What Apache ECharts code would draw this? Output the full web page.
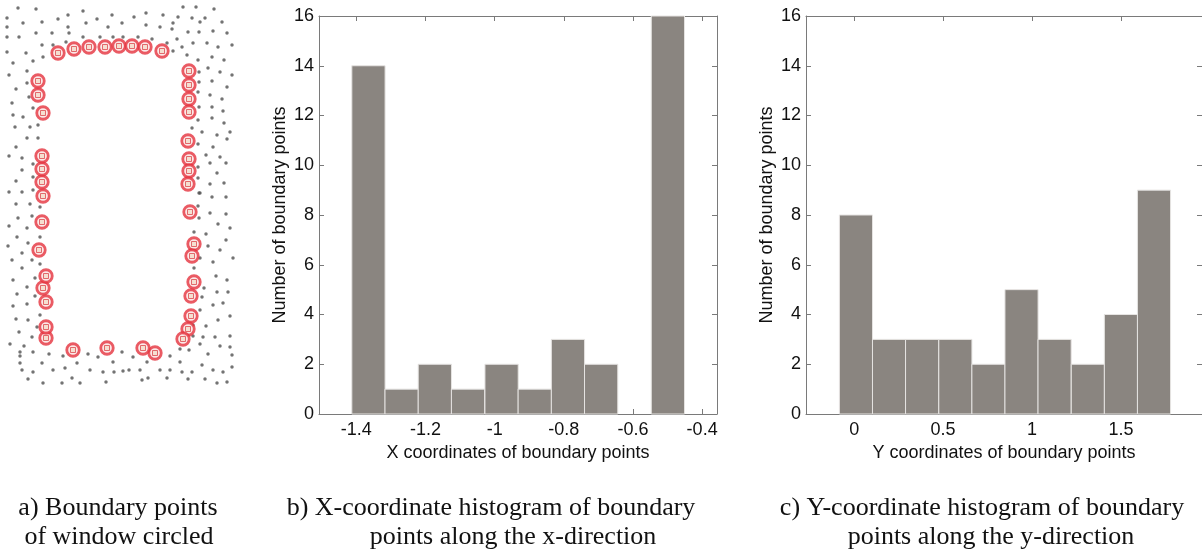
<!DOCTYPE html>
<html>
<head>
<meta charset="utf-8">
<script src="https://cdn.jsdelivr.net/npm/echarts@6.0.0/dist/echarts.min.js"></script>
<style>
  html, body { margin: 0; padding: 0; background: #fff; }
  #main { width: 1202px; height: 552px; }
</style>
</head>
<body>
<div id="main"></div>
<script>
// panel a: point cloud (picture units, y grows downward)
const grayDots = [
  [18,8],[36,9],[183,7],[196,7],[214,9],
  [83,11],[68,15],[112,15],[146,13],[163,15],[178,17],[192,18],[205,18],[7,18],
  [23,23],[42,22],[58,19],[86,23],[97,19],[122,23],[134,17],[146,25],[160,27],[173,23],[200,22],[222,22],[7,27],
  [68,27],[108,27],[36,33],[52,33],[69,33],[172,29],[188,32],[199,32],[213,31],[227,33],[19,37],[7,37],
  [83,37],[100,37],[113,37],[123,37],[138,37],[152,39],[177,39],
  [42,45],[53,45],[66,42],[167,43],[182,47],[193,43],[207,43],[218,47],[232,45],
  [26,53],[43,57],[33,61],[13,63],[173,51],[187,55],[198,60],[212,57],[224,60],[7,52],
  [27,71],[9,75],[199,72],[208,68],[220,72],[232,75],
  [27,83],[16,89],[29,97],[12,103],[199,82],[212,81],[227,87],[198,92],[210,95],[222,99],[199,107],
  [33,108],[13,115],[23,117],[15,127],[30,127],[38,125],[198,120],[212,107],[223,111],[212,118],[224,123],
  [192,128],[202,132],[217,135],[230,132],
  [27,138],[38,138],[16,147],[198,144],[213,147],[227,139],[206,155],[220,157],[9,156],[22,158],
  [33,164],[22,170],[33,177],[16,181],[9,192],[22,192],[33,190],[198,167],[210,163],[226,163],[217,173],
  [198,178],[210,184],[224,183],[199,193],[212,197],[226,197],
  [16,204],[30,204],[40,207],[18,218],[32,216],[9,226],[27,228],[40,237],[17,237],[28,243],[22,253],[12,260],
  [32,260],[40,264],[22,268],[13,280],[35,278],[27,287],[17,294],[35,296],[13,306],[27,304],[40,315],[16,319],
  [28,320],[37,327],[19,332],[32,337],[10,344],[24,346],[33,352],[20,352],[20,356],[8,246],
  [49,354],[63,356],[88,354],[98,357],[113,362],[122,352],[133,357],[147,362],[170,356],[180,349],[180,362],
  [20,363],[42,363],[77,363],[65,368],[53,370],[33,372],[22,370],[90,370],[103,372],[114,372],[123,371],
  [129,370],[140,370],[160,370],[170,370],[182,372],[192,372],[202,365],[213,370],[223,372],[232,367],
  [28,379],[43,383],[62,383],[72,378],[80,383],[106,382],[142,380],[148,378],[167,378],[188,379],[205,379],
  [217,383],[227,382],
  [200,193],[198,206],[210,213],[226,214],[199,218],[218,224],[230,228],[194,232],[206,234],[226,240],
  [208,246],[220,250],[200,258],[213,262],[233,258],[194,268],[216,276],[227,280],[204,288],[217,292],
  [228,292],[202,297],[213,305],[223,303],[200,310],[230,316],[218,320],[206,326],[193,325],[193,336],
  [203,337],[215,337],[230,336],[200,344],[220,346],[189,350],[208,354],[230,347],[232,355]
]
const boundaryPts = [
  [58,53],[74,49],[89,47],[105,47],[119,46],[132,46],[145,47],[162,51],
  [189,71],[189,85],[189,99],[189,112],[188,141],[189,159],[189,171],[188,184],
  [190,212],[194,244],[192,256],[194,282],[191,296],[191,316],[188,329],[183,339],
  [155,353],[143,348],[107,348],[73,350],
  [46,338],[46,327],[46,302],[43,288],[46,276],[39,250],[42,222],[43,196],
  [42,182],[42,169],[42,156],[43,113],[38,95],[38,81]
]

// panel b: x histogram
const xCenters = [-1.365, -1.269, -1.173, -1.077, -0.980, -0.884, -0.788, -0.692, -0.596, -0.499]
const xCounts = [14, 1, 2, 1, 2, 1, 3, 2, 0, 16]
const xBinWidth = 0.0962
const xTicks = [-1.4, -1.2, -1, -0.8, -0.6, -0.4]

// panel c: y histogram
const yCenters = [0.010, 0.196, 0.382, 0.569, 0.755, 0.941, 1.127, 1.314, 1.500, 1.686]
const yCounts = [8, 3, 3, 3, 2, 5, 3, 2, 4, 9]
const yBinWidth = 0.1863
const yTicks = [0, 0.5, 1, 1.5]

const captions = [
  { text: 'a) Boundary points', x: 118, y: 508 },
  { text: 'of window circled', x: 119, y: 537 },
  { text: 'b) X-coordinate histogram of boundary', x: 491, y: 508 },
  { text: 'points along the x-direction', x: 513, y: 537 },
  { text: 'c) Y-coordinate histogram of boundary', x: 982, y: 508 },
  { text: 'points along the y-direction', x: 991, y: 537 }
]

var myChart = echarts.init(document.getElementById('main'))

const sans = "'Liberation Sans', Arial, sans-serif"
const boxColor = '#7a7a7a'
const barFill = '#8a8580'

function histBar(params, api) {
  const n = api.value(1)
  if (!n) return null
  const c = api.value(0)
  const w = api.value(2)
  const p0 = api.coord([c - w / 2, 0])
  const p1 = api.coord([c + w / 2, n])
  return {
    type: 'rect',
    shape: { x: p0[0], y: p1[1], width: p1[0] - p0[0], height: p0[1] - p1[1] },
    style: { fill: barFill, stroke: '#e6e4e2', lineWidth: 1 }
  }
}

function boxAxis(extra) {
  return Object.assign({
    type: 'value',
    axisLine: { show: true, onZero: false, lineStyle: { color: boxColor, width: 1 } },
    axisTick: { show: true, inside: true, length: 5, lineStyle: { color: boxColor } },
    axisLabel: { show: false },
    splitLine: { show: false }
  }, extra)
}

const tickLabel = { show: true, color: '#111', fontSize: 18, fontFamily: sans }
const nameStyle = { color: '#111', fontSize: 18, fontFamily: sans }

var option = {
  animation: false,
  backgroundColor: '#fff',
  grid: [
    { left: 0, top: 0, width: 240, height: 390 },
    { left: 319, top: 16, width: 398, height: 398 },
    { left: 806, top: 16, width: 397, height: 398 }
  ],
  xAxis: [
    { type: 'value', gridIndex: 0, min: 0, max: 240, show: false },
    boxAxis({
      gridIndex: 1, position: 'bottom', min: -1.508, max: -0.357,
      axisTick: { show: true, inside: true, length: 5, customValues: xTicks, lineStyle: { color: boxColor } },
      axisLabel: Object.assign({ customValues: xTicks, margin: 7 }, tickLabel),
      name: 'X coordinates of boundary points', nameLocation: 'middle', nameGap: 25, nameTextStyle: nameStyle
    }),
    boxAxis({
      gridIndex: 1, position: 'top', min: -1.508, max: -0.357,
      axisTick: { show: true, inside: true, length: 5, customValues: xTicks, lineStyle: { color: boxColor } }
    }),
    boxAxis({
      gridIndex: 2, position: 'bottom', min: -0.271, max: 1.956,
      axisTick: { show: true, inside: true, length: 5, customValues: yTicks, lineStyle: { color: boxColor } },
      axisLabel: Object.assign({ customValues: yTicks, margin: 7 }, tickLabel),
      name: 'Y coordinates of boundary points', nameLocation: 'middle', nameGap: 25, nameTextStyle: nameStyle
    }),
    boxAxis({
      gridIndex: 2, position: 'top', min: -0.271, max: 1.956,
      axisTick: { show: true, inside: true, length: 5, customValues: yTicks, lineStyle: { color: boxColor } }
    })
  ],
  yAxis: [
    { type: 'value', gridIndex: 0, min: 0, max: 390, inverse: true, show: false },
    boxAxis({
      gridIndex: 1, position: 'left', min: 0, max: 16, interval: 2,
      axisLabel: Object.assign({ margin: 5 }, tickLabel),
      name: 'Number of boundary points', nameLocation: 'middle', nameGap: 30, nameTextStyle: nameStyle
    }),
    boxAxis({ gridIndex: 1, position: 'right', min: 0, max: 16, interval: 2 }),
    boxAxis({
      gridIndex: 2, position: 'left', min: 0, max: 16, interval: 2,
      axisLabel: Object.assign({ margin: 5 }, tickLabel),
      name: 'Number of boundary points', nameLocation: 'middle', nameGap: 30, nameTextStyle: nameStyle
    }),
    boxAxis({ gridIndex: 2, position: 'right', min: 0, max: 16, interval: 2 })
  ],
  series: [
    {
      type: 'scatter', xAxisIndex: 0, yAxisIndex: 0,
      data: grayDots, symbolSize: 3.5,
      itemStyle: { color: '#505050' }
    },
    {
      type: 'scatter', xAxisIndex: 0, yAxisIndex: 0, z: 3,
      data: boundaryPts, symbol: 'circle', symbolSize: 12.5,
      itemStyle: { color: '#fbe4e4', borderColor: '#e5333f', borderWidth: 2.8 }
    },
    {
      type: 'scatter', xAxisIndex: 0, yAxisIndex: 0, z: 4,
      data: boundaryPts, symbol: 'rect', symbolSize: 5,
      itemStyle: { color: '#f2dccb', borderColor: '#dc4a4f', borderWidth: 1 }
    },
    {
      type: 'custom', xAxisIndex: 1, yAxisIndex: 1,
      renderItem: histBar,
      data: xCenters.map((c, i) => [c, xCounts[i], xBinWidth])
    },
    {
      type: 'custom', xAxisIndex: 3, yAxisIndex: 3,
      renderItem: histBar,
      data: yCenters.map((c, i) => [c, yCounts[i], yBinWidth])
    }
  ],
  graphic: captions.map(c => ({
    type: 'text',
    x: c.x,
    y: c.y,
    style: {
      text: c.text,
      textAlign: 'center',
      textVerticalAlign: 'middle',
      fontFamily: "'Liberation Serif', 'Times New Roman', serif",
      fontSize: 26,
      fill: '#111'
    }
  }))
}

myChart.setOption(option)
</script>
</body>
</html>
